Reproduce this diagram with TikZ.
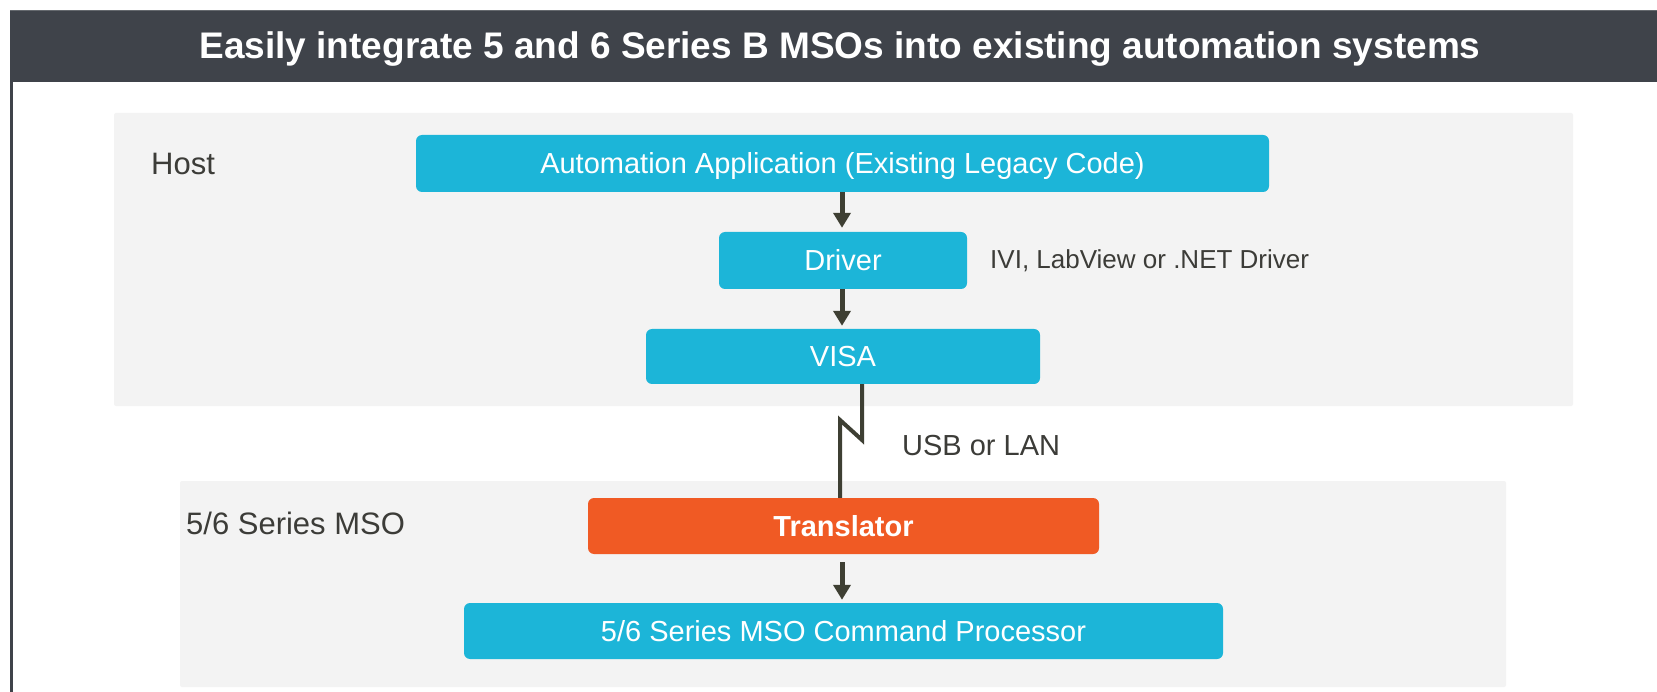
\documentclass[tikz,border=0pt]{standalone}
\usepackage{fontspec}
\setmainfont{Liberation Sans}
\usetikzlibrary{arrows.meta}
\definecolor{titlebg}{HTML}{3F434A}
\definecolor{cyanbox}{HTML}{1CB5D8}
\definecolor{orangebox}{HTML}{F05A24}
\definecolor{panelbg}{HTML}{F3F3F3}
\definecolor{arrowcol}{HTML}{3E3F33}
\definecolor{labelcol}{HTML}{3C3C38}
\tikzset{
  cbox/.style={rectangle, rounded corners=6pt, fill=cyanbox, text=white, inner sep=0pt,
    font=\fontsize{29}{35}\selectfont, text height=20.8pt, text depth=0pt},
  obox/.style={cbox, fill=orangebox, font=\fontsize{29}{35}\selectfont\bfseries},
  lbl/.style={inner sep=0pt, text=labelcol, anchor=base west},
  arr/.style={draw=arrowcol, line width=5pt, -{Triangle[length=15pt,width=17pt]}},
  bolt/.style={draw=arrowcol, line width=4pt, line join=miter}
}
\begin{document}
\begin{tikzpicture}[x=1pt,y=-1pt]
\useasboundingbox (0,0) rectangle (1657,692);
\fill[white] (0,0) rectangle (1657,692);
% title bar
\fill[titlebg] (10,10) rectangle (1657,82);
\draw[titlebg!80!white, line width=1pt] (10,10.5) -- (1657,10.5);
\draw[titlebg, line width=3pt] (11.5,82) -- (11.5,692);
\node[inner sep=0pt, text=white, anchor=base, font=\fontsize{37}{44}\selectfont\bfseries] (title) at (840,59) {Easily integrate 5 and 6 Series B MSOs into existing automation systems};
% panels
\fill[panelbg, rounded corners=2pt] (114,113) rectangle (1573,406);
\fill[panelbg, rounded corners=2pt] (180,481) rectangle (1506,687);
% labels
\node[lbl, font=\fontsize{31}{37}\selectfont] (host) at (151,175) {Host};
\node[lbl, font=\fontsize{31}{37}\selectfont] (msolbl) at (186,534) {5/6 Series MSO};
\node[lbl, font=\fontsize{26}{31}\selectfont] (ivi) at (990,269) {IVI, LabView or .NET Driver};
\node[lbl, font=\fontsize{29}{35}\selectfont] (usb) at (902,455) {USB or LAN};
% boxes
\node[cbox, minimum width=853pt, minimum height=57pt] (app) at (842.5,163.5) {Automation Application (Existing Legacy Code)};
\node[cbox, minimum width=248pt, minimum height=57pt] (driver) at (843,260.5) {Driver};
\node[cbox, minimum width=394pt, minimum height=55pt] (visa) at (843,356.5) {VISA};
\node[obox, minimum width=511pt, minimum height=56pt] (trans) at (843.5,526) {Translator};
\node[cbox, minimum width=759pt, minimum height=56pt] (proc) at (843.5,631) {5/6 Series MSO Command Processor};
% connectors
\coordinate (ax) at (842,0);
\coordinate (bx1) at (862,0);
\coordinate (bx2) at (840,0);
\draw[arr, shorten >=4pt] (app.south -| ax) -- (driver.north -| ax);
\draw[arr, shorten >=3pt] (driver.south -| ax) -- (visa.north -| ax);
\draw[arr, shorten <=8pt, shorten >=3pt] (trans.south -| ax) -- (proc.north -| ax);
\draw[bolt] (visa.south -| bx1) -- (862,440) -- (840,420) -- (trans.north -| bx2);
\end{tikzpicture}
\end{document}
